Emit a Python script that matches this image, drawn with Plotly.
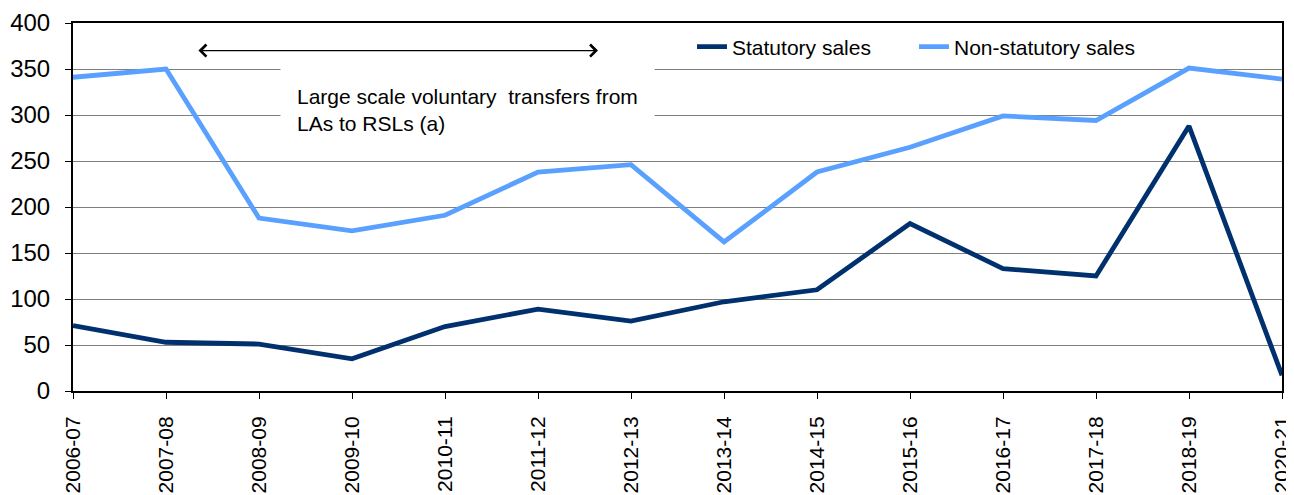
import plotly.graph_objects as go

years = ["2006-07", "2007-08", "2008-09", "2009-10", "2010-11", "2011-12", "2012-13",
         "2013-14", "2014-15", "2015-16", "2016-17", "2017-18", "2018-19", "2020-21"]
statutory = [71, 53, 51, 35, 70, 89, 76, 97, 110, 182, 133, 125, 288, 17]
non_statutory = [341, 350, 188, 174, 191, 238, 246, 162, 238, 265, 299, 294, 351, 339]
y_ticks = [0, 50, 100, 150, 200, 250, 300, 350, 400]

FONT = "Liberation Sans, Arial, sans-serif"

fig = go.Figure()
fig.add_trace(go.Scatter(x=years, y=statutory, mode="lines", name="Statutory sales",
                         line=dict(color="#00306E", width=4.8)))
fig.add_trace(go.Scatter(x=years, y=non_statutory, mode="lines", name="Non-statutory sales",
                         line=dict(color="#5AA0FF", width=4.8)))

# double-headed arrow
fig.add_annotation(x=5.645, y=370, ax=1.333, ay=370, xref="x", yref="y", axref="x", ayref="y",
                   text="", showarrow=True, arrowside="end+start", arrowhead=4,
                   arrowsize=1.8, arrowwidth=1.3, arrowcolor="black")
# label
fig.add_annotation(x=2.226, y=305, xref="x", yref="y", xanchor="left", yanchor="middle",
                   text="Large scale voluntary  transfers from<br>LAs to RSLs (a)",
                   showarrow=False, align="left", bgcolor="white", borderpad=16,
                   font=dict(family=FONT, size=21, color="black"))

fig.update_layout(
    width=1286, height=487,
    margin=dict(l=65, r=12, t=15, b=104),
    plot_bgcolor="white", paper_bgcolor="white",
    font=dict(family=FONT, size=21, color="black"),
    showlegend=True,
    legend=dict(orientation="h", x=0.512, y=0.935, xanchor="left", yanchor="middle",
                bgcolor="rgba(0,0,0,0)", font=dict(size=21), entrywidth=177,
                entrywidthmode="pixels"),
    xaxis=dict(type="category", range=[0, 13], tickangle=-90, showgrid=False,
               showline=True, linecolor="black", linewidth=2, mirror=True,
               ticks="outside", ticklen=6, tickcolor="black", tickwidth=1,
               tickfont=dict(size=21), automargin=False, ticklabelstandoff=9),
    yaxis=dict(range=[0, 400], tickvals=y_ticks, showgrid=True, gridcolor="#7f7f7f",
               gridwidth=1, showline=True, linecolor="black", linewidth=2, mirror=True,
               ticks="outside", ticklen=6, tickcolor="black", tickwidth=1,
               tickfont=dict(size=24), zeroline=False, automargin=False,
               ticklabelstandoff=10),
)

fig.write_html("out.html")
